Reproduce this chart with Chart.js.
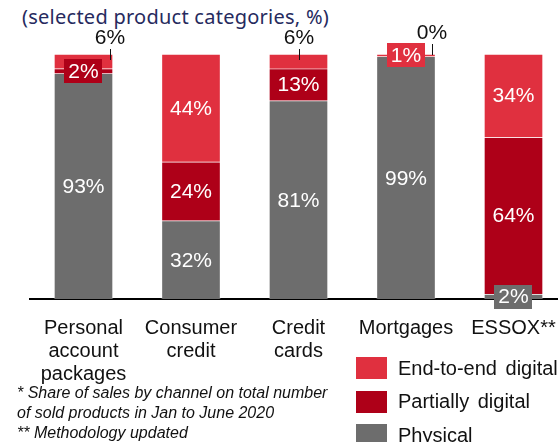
<!DOCTYPE html>
<html>
<head>
<meta charset="utf-8">
<title>Sales by channel</title>
<script src="https://cdn.jsdelivr.net/npm/chart.js@4.4.1/dist/chart.umd.min.js"></script>
<style>
  html, body { margin: 0; padding: 0; background: #fff; }
  body { width: 558px; height: 442px; overflow: hidden; position: relative; }
  #salesChart { position: absolute; left: 0; top: 0; }
  .subtitle {
    position: absolute; left: 22px; top: 6px;
    font: 20px "Noto Sans", sans-serif; color: #262a5e; white-space: nowrap;
    line-height: 22px; letter-spacing: 0.25px;
  }
  .notes {
    position: absolute; left: 17px; top: 383px;
    font: italic 16px "Liberation Sans", Arial, sans-serif; color: #111;
    line-height: 20px; white-space: nowrap;
  }
  .legend { position: absolute; left: 356px; top: 357px; }
  .legend-item { display: flex; align-items: center; height: 22px; margin-bottom: 11.5px; white-space: nowrap; }
  .legend-box { width: 31px; height: 22px; margin-right: 11px; flex: none; }
  .legend-label { font: 20px "Liberation Sans", Arial, sans-serif; color: #111; word-spacing: 3px; }
</style>
</head>
<body>
<div class="subtitle">(selected product categories, %)</div>
<canvas id="salesChart" width="600" height="442"></canvas>
<div class="notes">
  * Share of sales by channel on total number<br>
  of sold products in Jan to June 2020<br>
  ** Methodology updated
</div>
<div class="legend" id="legend"></div>

<script>
// categories (x axis)
const categories = [
  ['Personal', 'account', 'packages'],
  ['Consumer', 'credit'],
  ['Credit', 'cards'],
  'Mortgages',
  'ESSOX**'
];

// share of sales by channel, %
const endToEnd = [6, 44, 6, 1, 34];
const partiallyDigital = [2, 24, 13, 0, 64];
const physical = [93, 32, 81, 99, 2];

const seriesNames = ['End-to-end digital', 'Partially digital', 'Physical'];
const seriesColors = ['#e0303f', '#ae0018', '#6d6d6d'];

// labels drawn above the bar with a small tick instead of inside it
const callouts = [
  { cat: 0, series: 0, dx: 26 },
  { cat: 2, series: 0, dx: 0 },
  { cat: 3, series: 1, dx: 26, dy: -5 }
];

const FONT = '"Liberation Sans", Arial, sans-serif';

// each column is drawn as a 100% stack (first column adds up to 101)
const totals = categories.map((c, i) => endToEnd[i] + partiallyDigital[i] + physical[i]);
const toShare = arr => arr.map((v, i) => v / totals[i] * 100);

const seriesValues = [endToEnd, partiallyDigital, physical];

// stacking starts from the first dataset -> physical at the bottom
const datasets = [2, 1, 0].map(s => ({
  label: seriesNames[s],
  seriesIndex: s,
  raw: seriesValues[s],
  data: toShare(seriesValues[s]),
  backgroundColor: seriesColors[s],
  borderColor: 'rgba(255,255,255,0.22)',
  borderWidth: 1,
  borderSkipped: 'bottom',
  barThickness: 59
}));

const segmentLabels = {
  id: 'segmentLabels',
  afterDraw(chart) {
    const ctx = chart.ctx;
    const yScale = chart.scales.y;
    const top = yScale.getPixelForValue(100);
    ctx.save();
    ctx.font = '21px ' + FONT;
    ctx.textAlign = 'center';
    ctx.textBaseline = 'middle';

    chart.data.datasets.forEach((ds, di) => {
      const meta = chart.getDatasetMeta(di);
      meta.data.forEach((bar, i) => {
        const value = ds.raw[i];
        const text = value + '%';
        const callout = callouts.find(c => c.cat === i && c.series === ds.seriesIndex);

        if (callout) {
          const x = Math.round(bar.x + callout.dx);
          const ty = top - 16 + (callout.dy || 0);
          ctx.fillStyle = '#111';
          ctx.fillText(text, x, ty);
          ctx.strokeStyle = '#111';
          ctx.lineWidth = 1;
          ctx.beginPath();
          ctx.moveTo(x + 0.5, ty + 11);
          ctx.lineTo(x + 0.5, ty + 22);
          ctx.stroke();
          return;
        }

        const cy = (bar.y + bar.base) / 2;
        if (value < 5) {
          const w = ctx.measureText(text).width + 8;
          ctx.fillStyle = ds.backgroundColor;
          ctx.fillRect(Math.round(bar.x - w / 2), Math.round(cy - 12), Math.round(w), 24);
        }
        ctx.fillStyle = '#fff';
        ctx.fillText(text, bar.x, cy + 1);
      });
    });
    ctx.restore();
  }
};

new Chart(document.getElementById('salesChart'), {
  type: 'bar',
  data: { labels: categories, datasets: datasets },
  options: {
    responsive: false,
    animation: false,
    layout: { padding: { left: 29.75, right: 32.75, top: 54, bottom: 46 } },
    plugins: {
      legend: { display: false },
      tooltip: { enabled: false }
    },
    scales: {
      x: {
        stacked: true,
        grid: { display: false },
        border: { display: true, color: '#000', width: 2 },
        ticks: {
          color: '#111',
          font: { family: FONT, size: 20, lineHeight: 1.15 },
          padding: 10,
          maxRotation: 0,
          autoSkip: false
        }
      },
      y: {
        stacked: true,
        display: false,
        min: 0,
        max: 100
      }
    }
  },
  plugins: [segmentLabels]
});

// legend
const legendEl = document.getElementById('legend');
legendEl.innerHTML = seriesNames.map((name, i) => `
  <div class="legend-item">
    <div class="legend-box" style="background:${seriesColors[i]}"></div>
    <span class="legend-label">${name}</span>
  </div>
`).join('');
</script>
</body>
</html>
